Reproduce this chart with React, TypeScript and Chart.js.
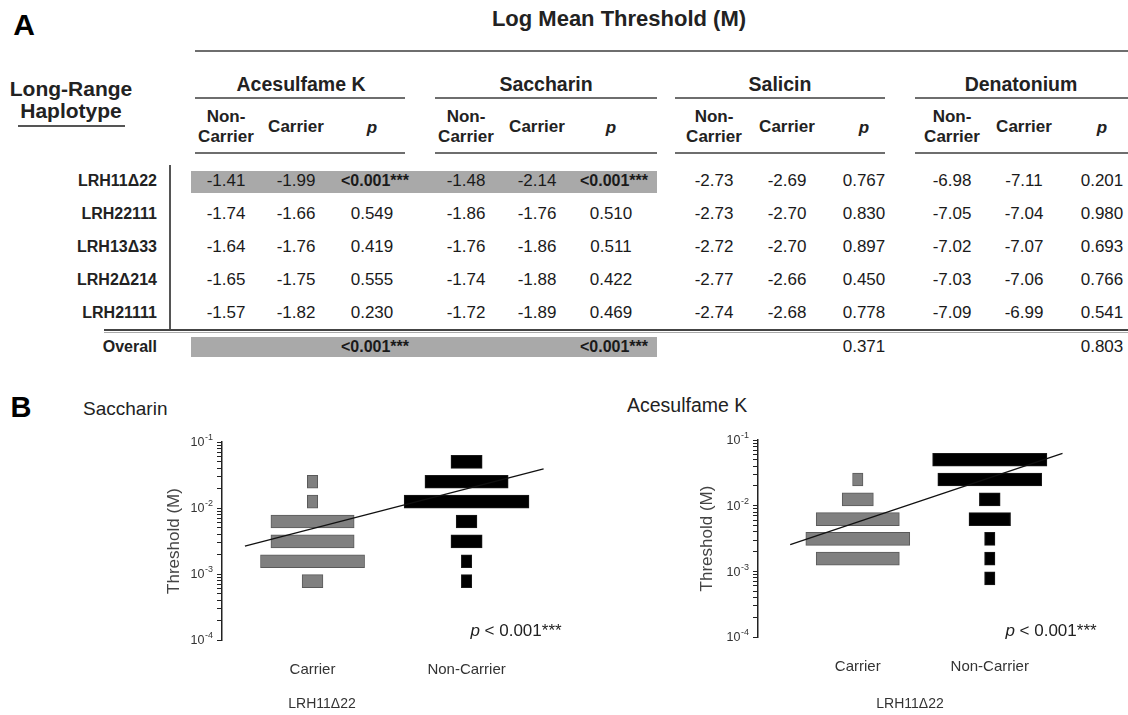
import React, { useEffect, useRef } from 'react';
import { Chart, registerables } from 'chart.js';
Chart.register(...registerables);

const FONT = '"Liberation Sans", Arial, Helvetica, sans-serif';

// ---------- Table (A) data ----------
const haplotypes = ['LRH11Δ22', 'LRH22111', 'LRH13Δ33', 'LRH2Δ214', 'LRH21111'];
const tastants = ['Acesulfame K', 'Saccharin', 'Salicin', 'Denatonium'];
const aceNonCarrier = [-1.41, -1.74, -1.64, -1.65, -1.57];
const aceCarrier = [-1.99, -1.66, -1.76, -1.75, -1.82];
const aceP = ['<0.001***', '0.549', '0.419', '0.555', '0.230'];
const sacNonCarrier = [-1.48, -1.86, -1.76, -1.74, -1.72];
const sacCarrier = [-2.14, -1.76, -1.86, -1.88, -1.89];
const sacP = ['<0.001***', '0.510', '0.511', '0.422', '0.469'];
const salNonCarrier = [-2.73, -2.73, -2.72, -2.77, -2.74];
const salCarrier = [-2.69, -2.7, -2.7, -2.66, -2.68];
const salP = ['0.767', '0.830', '0.897', '0.450', '0.778'];
const denNonCarrier = [-6.98, -7.05, -7.02, -7.03, -7.09];
const denCarrier = [-7.11, -7.04, -7.07, -7.06, -6.99];
const denP = ['0.201', '0.980', '0.693', '0.766', '0.541'];
const overallP = ['<0.001***', '<0.001***', '0.371', '0.803'];

// ---------- Histogram (B) data ----------
const groups = ['Carrier', 'Non-Carrier'];
const thresholdBins = [0.05, 0.025, 0.0125, 0.00625, 0.003125, 0.0015625, 0.00078125];
const sacCarrierCounts = [0, 1, 1, 8, 8, 10, 2];
const sacNonCarrierCounts = [3, 8, 12, 2, 3, 1, 1];
const aceCarrierCounts = [0, 1, 3, 8, 10, 8, 0];
const aceNonCarrierCounts = [11, 10, 2, 4, 1, 1, 1];
const sacFitX = [2.2, 30.9];
const sacFitY = [0.00265, 0.039];
const aceFitX = [3.1, 29.3];
const aceFitY = [0.00255, 0.0626];
const yTickDecades = [1e-4, 1e-3, 1e-2, 1e-1];
const yTickBase = '10';
const yTickExponents = ['-4', '-3', '-2', '-1'];

type Spec = {
  left: number; top: number; width: number; height: number;
  padTop: number; yAxisWidth: number; xAxisHeight: number; titlePad: number;
  xMax: number; groupX: number[];
  carrier: number[]; nonCarrier: number[]; fitX: number[]; fitY: number[];
};

const sacSpec: Spec = {
  left: 140, top: 432, width: 440, height: 283, padTop: 10, yAxisWidth: 82, xAxisHeight: 75, titlePad: 24,
  xMax: 34.4, groupX: [8.7, 23.5],
  carrier: sacCarrierCounts, nonCarrier: sacNonCarrierCounts, fitX: sacFitX, fitY: sacFitY,
};
const aceSpec: Spec = {
  left: 676, top: 430, width: 452, height: 285, padTop: 10, yAxisWidth: 82, xAxisHeight: 78, titlePad: 21,
  xMax: 35.6, groupX: [9.6, 22.3],
  carrier: aceCarrierCounts, nonCarrier: aceNonCarrierCounts, fitX: aceFitX, fitY: aceFitY,
};

function histData(counts: number[], center: number) {
  return counts
    .map((n, i) => ({ y: thresholdBins[i], x: [center - n / 2, center + n / 2] }))
    .filter((_, i) => counts[i] > 0);
}

// draws "10" with a raised exponent at each decade of the y scale
const decadeLabels = {
  id: 'decadeLabels',
  afterDraw(chart: any) {
    const s = chart.scales.y;
    const ctx = chart.ctx;
    ctx.save();
    ctx.fillStyle = '#333';
    ctx.textAlign = 'right';
    ctx.textBaseline = 'middle';
    const right = s.right - 5 - 4;
    yTickDecades.forEach((v, i) => {
      const py = s.getPixelForValue(v);
      ctx.font = `9px ${FONT}`;
      const w = ctx.measureText(yTickExponents[i]).width;
      ctx.fillText(yTickExponents[i], right, py - 4);
      ctx.font = `12.5px ${FONT}`;
      ctx.fillText(yTickBase, right - w - 0.5, py + 1);
    });
    ctx.restore();
  },
};

function HistogramChart({ spec }: { spec: Spec }) {
  const ref = useRef<HTMLCanvasElement>(null);
  useEffect(() => {
    const chart = new Chart(ref.current as HTMLCanvasElement, {
      type: 'bar',
      data: {
        datasets: [
          {
            type: 'line',
            label: 'fit',
            indexAxis: 'x',
            data: spec.fitX.map((x, i) => ({ x, y: spec.fitY[i] })),
            borderColor: '#111',
            borderWidth: 1.3,
            pointRadius: 0,
            fill: false,
            order: 0,
          } as any,
          {
            type: 'bar',
            label: groups[0],
            indexAxis: 'y',
            data: histData(spec.carrier, spec.groupX[0]),
            backgroundColor: '#808080',
            borderColor: '#5a5a5a',
            borderWidth: 1,
            borderSkipped: false,
            barThickness: 13,
            grouped: false,
            order: 1,
          } as any,
          {
            type: 'bar',
            label: groups[1],
            indexAxis: 'y',
            data: histData(spec.nonCarrier, spec.groupX[1]),
            backgroundColor: '#000000',
            borderColor: '#1a1a1a',
            borderWidth: 1,
            borderSkipped: false,
            barThickness: 13,
            grouped: false,
            order: 1,
          } as any,
        ],
      },
      options: {
        responsive: false,
        animation: false,
        indexAxis: 'y',
        layout: { padding: { top: spec.padTop, left: 0, right: 0, bottom: 0 } },
        plugins: { legend: { display: false }, tooltip: { enabled: false }, title: { display: false } },
        scales: {
          x: {
            type: 'linear',
            position: 'bottom',
            min: 0,
            max: spec.xMax,
            offset: false,
            afterBuildTicks: (scale: any) => {
              scale.ticks = spec.groupX.map((v) => ({ value: v }));
            },
            afterFit: (scale: any) => {
              scale.height = spec.xAxisHeight;
            },
            ticks: {
              autoSkip: false,
              maxRotation: 0,
              padding: 21,
              color: '#333',
              font: { family: FONT, size: 15 },
              callback: (_v: any, i: number) => groups[i],
            },
            grid: { display: false, drawTicks: false },
            border: { display: false },
          },
          y: {
            type: 'logarithmic',
            position: 'left',
            min: 1e-4,
            max: 1e-1,
            offset: false,
            afterBuildTicks: (scale: any) => {
              const t: any[] = [];
              for (let e = -4; e <= -1; e++) {
                for (let s = 1; s <= 9; s++) {
                  const v = s * Math.pow(10, e);
                  if (v <= 0.1 + 1e-12) t.push({ value: v, major: s === 1 });
                }
              }
              scale.ticks = t;
            },
            afterFit: (scale: any) => {
              scale.width = spec.yAxisWidth;
            },
            ticks: { display: false, autoSkip: false },
            grid: {
              display: true,
              drawOnChartArea: false,
              drawTicks: true,
              tickLength: 5,
              color: '#222',
              offset: false,
            },
            border: { display: true, color: '#222', width: 1.5 },
            title: {
              display: true,
              text: 'Threshold (M)',
              color: '#444',
              font: { family: FONT, size: 17 },
              padding: { top: spec.titlePad, bottom: 0 },
            },
          },
        },
      } as any,
      plugins: [decadeLabels],
    });
    return () => chart.destroy();
  }, [spec]);
  return (
    <canvas
      ref={ref}
      width={spec.width}
      height={spec.height}
      style={{ position: 'absolute', left: spec.left, top: spec.top, width: spec.width, height: spec.height }}
    />
  );
}

function Txt(props: {
  x: number; y: number; children: React.ReactNode; size?: number; bold?: boolean;
  italic?: boolean; align?: 'left' | 'center' | 'right'; color?: string; lh?: number;
}) {
  const { x, y, children, size = 17, bold = false, italic = false, align = 'center', color = '#1a1a1a', lh = 1.15 } = props;
  const tx = align === 'center' ? '-50%' : align === 'right' ? '-100%' : '0';
  return (
    <div
      style={{
        position: 'absolute', left: x, top: y, transform: `translate(${tx}, -50%)`,
        fontSize: size, fontWeight: bold ? 700 : 400, fontStyle: italic ? 'italic' : 'normal',
        whiteSpace: 'nowrap', lineHeight: lh, color, fontFamily: FONT, textAlign: align,
      }}
    >
      {children}
    </div>
  );
}

function Box(props: { x1: number; x2: number; y1: number; y2: number; color: string }) {
  const { x1, x2, y1, y2, color } = props;
  return <div style={{ position: 'absolute', left: x1, top: y1, width: x2 - x1, height: y2 - y1, background: color }} />;
}

const groupTable = [
  { nc: aceNonCarrier, c: aceCarrier, p: aceP },
  { nc: sacNonCarrier, c: sacCarrier, p: sacP },
  { nc: salNonCarrier, c: salCarrier, p: salP },
  { nc: denNonCarrier, c: denCarrier, p: denP },
];
const colX = [
  [226, 296, 372],
  [466, 537, 611],
  [714, 787, 864],
  [952, 1024, 1102],
];
const headerX = [301, 546, 780, 1021];
const ruleSpans = [
  [195, 405],
  [435, 657],
  [675, 885],
  [915, 1128],
];
const rowY = [181, 214, 247, 280, 313];
const overallY = 347;
const RULE = '#6e6e6e';

function PVal({ x, y, v }: { x: number; y: number; v: string }) {
  const sig = v.startsWith('<');
  return (
    <Txt x={x + (sig ? 3 : 0)} y={y} size={sig ? 16 : 17} bold={sig}>
      {v}
    </Txt>
  );
}

export default function App() {
  return (
    <div style={{ position: 'absolute', left: 0, top: 0, width: 1128, height: 715, background: '#fff', overflow: 'hidden', fontFamily: FONT }}>
      {/* ---- Panel A ---- */}
      <Txt x={24} y={25} size={30} bold color="#000">A</Txt>
      <Txt x={619} y={19} size={22} bold color="#222">Log Mean Threshold (M)</Txt>
      <Box x1={195} x2={1128} y1={50} y2={52} color={RULE} />
      <Txt x={71} y={89} size={21} bold color="#222">Long-Range</Txt>
      <Txt x={71} y={111} size={21} bold color="#222">Haplotype</Txt>
      <Box x1={18} x2={125} y1={125} y2={127} color="#555" />

      {tastants.map((t, g) => (
        <React.Fragment key={t}>
          <Txt x={headerX[g]} y={84} size={19.5} bold color="#222">{t}</Txt>
          <Box x1={ruleSpans[g][0]} x2={ruleSpans[g][1]} y1={97} y2={99} color={RULE} />
          <Txt x={colX[g][0]} y={127} size={17} bold color="#222" lh={1.2}>
            Non-<br />Carrier
          </Txt>
          <Txt x={colX[g][1]} y={127} size={17} bold color="#222">Carrier</Txt>
          <Txt x={colX[g][2]} y={128} size={17} bold italic color="#222">p</Txt>
          <Box x1={ruleSpans[g][0]} x2={ruleSpans[g][1]} y1={152} y2={154} color={RULE} />
        </React.Fragment>
      ))}

      <Box x1={191} x2={657} y1={171} y2={193} color="#a9a9a9" />
      <Box x1={191} x2={657} y1={337} y2={357} color="#a9a9a9" />
      <Box x1={169} x2={171} y1={165} y2={331} color="#555" />
      <Box x1={104} x2={1128} y1={329} y2={331} color="#444" />
      <Box x1={104} x2={1128} y1={332} y2={333} color="#aaa" />

      {haplotypes.map((h, r) => (
        <React.Fragment key={h}>
          <Txt x={157} y={rowY[r]} size={16} bold align="right" color="#222">{h}</Txt>
          {groupTable.map((gd, g) => (
            <React.Fragment key={g}>
              <Txt x={colX[g][0]} y={rowY[r]} size={17}>{gd.nc[r].toFixed(2)}</Txt>
              <Txt x={colX[g][1]} y={rowY[r]} size={17}>{gd.c[r].toFixed(2)}</Txt>
              <PVal x={colX[g][2]} y={rowY[r]} v={gd.p[r]} />
            </React.Fragment>
          ))}
        </React.Fragment>
      ))}
      <Txt x={157} y={overallY} size={16} bold align="right" color="#222">Overall</Txt>
      {overallP.map((p, g) => (
        <PVal key={g} x={colX[g][2]} y={overallY} v={p} />
      ))}

      {/* ---- Panel B ---- */}
      <Txt x={21} y={408} size={29} bold color="#000">B</Txt>
      <Txt x={83} y={409} size={19} align="left" color="#222">Saccharin</Txt>
      <Txt x={627} y={405} size={19.5} align="left" color="#222">Acesulfame K</Txt>

      <HistogramChart spec={sacSpec} />
      <HistogramChart spec={aceSpec} />

      <Txt x={516} y={631} size={17} color="#222">
        <i>p</i> &lt; 0.001***
      </Txt>
      <Txt x={1051} y={631} size={17} color="#222">
        <i>p</i> &lt; 0.001***
      </Txt>
      <Txt x={322} y={703} size={14} color="#333">LRH11Δ22</Txt>
      <Txt x={910} y={703} size={14} color="#333">LRH11Δ22</Txt>
    </div>
  );
}
